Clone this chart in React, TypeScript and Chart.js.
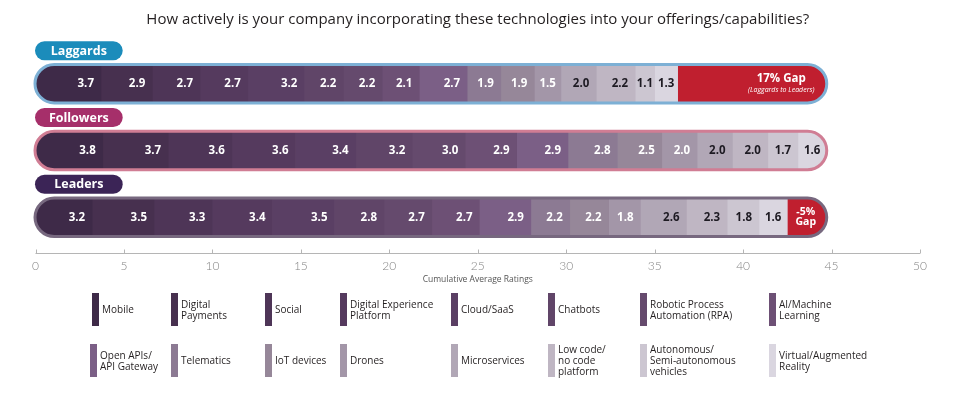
import { useEffect, useRef } from 'react';
import { Chart, registerables } from 'chart.js';
Chart.register(...registerables);

// ---------- data ----------
const chartTitle = 'How actively is your company incorporating these technologies into your offerings/capabilities?';
const groups = ['Laggards', 'Followers', 'Leaders'];
const technologies = [
  'Mobile', 'Digital\nPayments', 'Social', 'Digital Experience\nPlatform', 'Cloud/SaaS', 'Chatbots',
  'Robotic Process\nAutomation (RPA)', 'AI/Machine\nLearning', 'Open APIs/\nAPI Gateway', 'Telematics',
  'IoT devices', 'Drones', 'Microservices', 'Low code/\nno code\nplatform', 'Autonomous/\nSemi-autonomous\nvehicles',
  'Virtual/Augmented\nReality',
];
const laggards = [3.7, 2.9, 2.7, 2.7, 3.2, 2.2, 2.2, 2.1, 2.7, 1.9, 1.9, 1.5, 2.0, 2.2, 1.1, 1.3];
const followers = [3.8, 3.7, 3.6, 3.6, 3.4, 3.2, 3.0, 2.9, 2.9, 2.8, 2.5, 2.0, 2.0, 2.0, 1.7, 1.6];
const leaders = [3.2, 3.5, 3.3, 3.4, 3.5, 2.8, 2.7, 2.7, 2.9, 2.2, 2.2, 1.8, 2.6, 2.3, 1.8, 1.6];
const gaps = [8.4, 0, 2.2];
const gapLabels = [['17% Gap', '(Laggards to Leaders)'], [], ['-5%', 'Gap']];
const xTicks = [0, 5, 10, 15, 20, 25, 30, 35, 40, 45, 50];
const axisTitle = 'Cumulative Average Ratings';

// ---------- styles / layout ----------
const FONT = "'Open Sans', 'DejaVu Sans', sans-serif";
const segmentColors = [
  '#3e2a48', '#47304f', '#4e3557', '#553a5e', '#5a3f64', '#604568', '#654a6d', '#6d5075',
  '#7b5f86', '#8c7a93', '#968799', '#a396a8', '#b1a7b6', '#bfb6c3', '#ccc6d1', '#dad6e0',
];
const darkTextFrom = 12;
const groupColors = ['#1b8cbb', '#a62f6a', '#3b2456'];
const outlineColors = ['#7db0d5', '#d07d94', '#77687f'];
const gapColor = '#c01f2f';
const legendSwatchX = [[92, 171, 265, 340, 451, 548, 640, 769], [90, 171, 265, 340, 451, 548, 640, 769]];
const legendRowTop = [293, 344];

const rows = [laggards, followers, leaders];

function pathRound(ctx: CanvasRenderingContext2D, x: number, y: number, w: number, h: number, r: number) {
  ctx.moveTo(x + r, y);
  ctx.lineTo(x + w - r, y);
  ctx.arc(x + w - r, y + r, r, -Math.PI / 2, Math.PI / 2);
  ctx.lineTo(x + r, y + h);
  ctx.arc(x + r, y + r, r, Math.PI / 2, Math.PI * 1.5);
  ctx.closePath();
}

function rowGeom(chart: any, j: number) {
  const xs = chart.scales.x;
  const ys = chart.scales.y;
  const total = rows[j].reduce((a: number, b: number) => a + b, 0) + gaps[j];
  const cy = ys.getPixelForValue(j);
  const h = 38.5;
  const x0 = xs.getPixelForValue(0);
  const x1 = xs.getPixelForValue(total);
  return { x0, x1, cy, h, top: cy - h / 2 };
}

const barsPlugin = {
  id: 'roundedRows',
  beforeDatasetsDraw(chart: any) {
    const ctx = chart.ctx as CanvasRenderingContext2D;
    ctx.save();
    ctx.beginPath();
    groups.forEach((_, j) => {
      const g = rowGeom(chart, j);
      pathRound(ctx, g.x0, g.top, g.x1 - g.x0, g.h, g.h / 2);
    });
    ctx.clip();
  },
  afterDatasetsDraw(chart: any) {
    const ctx = chart.ctx as CanvasRenderingContext2D;
    ctx.restore();
    // value labels
    ctx.save();
    ctx.textBaseline = 'middle';
    ctx.textAlign = 'center';
    technologies.forEach((_, i) => {
      const meta = chart.getDatasetMeta(i);
      meta.data.forEach((el: any, j: number) => {
        const p = el.getProps(['x', 'base', 'y'], true);
        const v = rows[j][i];
        const txt = v.toFixed(1);
        ctx.font = `bold 11.5px ${FONT}`;
        const tw = ctx.measureText(txt).width;
        const start = Math.min(p.x, p.base);
        const end = Math.max(p.x, p.base);
        const cx = Math.max((start + end) / 2, end - 7 - tw / 2);
        ctx.fillStyle = i >= darkTextFrom ? '#1d1a22' : '#ffffff';
        ctx.fillText(txt, cx, p.y + 0.5);
      });
    });
    // gap labels
    const gi = technologies.length;
    const gmeta = chart.getDatasetMeta(gi);
    gmeta.data.forEach((el: any, j: number) => {
      const lines = gapLabels[j];
      if (!lines || !lines.length || !gaps[j]) return;
      const p = el.getProps(['x', 'base', 'y'], true);
      const start = Math.min(p.x, p.base);
      const end = Math.max(p.x, p.base);
      const cx = Math.max((start + end) / 2, end - 45);
      ctx.fillStyle = '#ffffff';
      if (j === 0) {
        ctx.font = `bold 11.5px ${FONT}`;
        ctx.fillText(lines[0], cx, p.y - 5);
        ctx.font = `italic 7px ${FONT}`;
        ctx.fillText(lines[1], cx, p.y + 6);
      } else {
        ctx.font = `bold 10.5px ${FONT}`;
        ctx.fillText(lines[0], cx - 1, p.y - 5.5);
        ctx.fillText(lines[1], cx - 1, p.y + 5);
      }
    });
    ctx.restore();
    // outlines + badges
    ctx.save();
    groups.forEach((name, j) => {
      const g = rowGeom(chart, j);
      ctx.beginPath();
      pathRound(ctx, g.x0 - 0.5, g.top, g.x1 - g.x0 + 1, g.h, g.h / 2);
      ctx.lineWidth = 3;
      ctx.strokeStyle = outlineColors[j];
      ctx.stroke();
      // badge
      const bx = 35, bw = 87.7, bh = 19;
      const by = g.cy - 33 - bh / 2;
      ctx.beginPath();
      pathRound(ctx, bx, by, bw, bh, bh / 2);
      ctx.fillStyle = groupColors[j];
      ctx.fill();
      ctx.fillStyle = '#ffffff';
      ctx.font = `bold 12.5px ${FONT}`;
      ctx.textAlign = 'center';
      ctx.textBaseline = 'middle';
      ctx.fillText(name, bx + bw / 2, by + bh / 2 + 0.5);
    });
    ctx.restore();
  },
  afterDraw(chart: any) {
    const ctx = chart.ctx as CanvasRenderingContext2D;
    const xs = chart.scales.x;
    const y = Math.round(chart.chartArea.bottom + 2.3) + 0.5;
    ctx.save();
    ctx.strokeStyle = '#b5b5b5';
    ctx.lineWidth = 1;
    ctx.beginPath();
    ctx.moveTo(xs.getPixelForValue(xTicks[0]), y);
    ctx.lineTo(xs.getPixelForValue(xTicks[xTicks.length - 1]), y);
    xTicks.forEach((t) => {
      const px = Math.round(xs.getPixelForValue(t)) + 0.5;
      ctx.moveTo(px, y);
      ctx.lineTo(px, y - 4);
    });
    ctx.stroke();
    ctx.restore();
  },
};

export default function App() {
  const ref = useRef<HTMLCanvasElement | null>(null);
  useEffect(() => {
    if (!ref.current) return;
    const datasets: any[] = technologies.map((t, i) => ({
      label: t.replace(/\n/g, ' '),
      data: rows.map((r) => r[i]),
      backgroundColor: segmentColors[i],
      borderWidth: 0,
      barThickness: 42,
    }));
    datasets.push({
      label: 'Gap',
      data: gaps,
      backgroundColor: gapColor,
      borderWidth: 0,
      barThickness: 42,
    });
    const chart = new Chart(ref.current, {
      type: 'bar',
      data: { labels: groups, datasets },
      plugins: [barsPlugin],
      options: {
        indexAxis: 'y',
        animation: false,
        responsive: false,
        maintainAspectRatio: false,
        layout: { padding: { left: 35.5, right: 40, top: 0, bottom: 113.9 } },
        plugins: {
          legend: { display: false },
          tooltip: { enabled: false },
          title: {
            display: true,
            text: chartTitle,
            color: '#231f20',
            font: { family: FONT, size: 15, weight: 'normal' },
            padding: { top: 11, bottom: 21.3 },
          },
        },
        scales: {
          x: {
            type: 'linear',
            stacked: true,
            min: 0,
            max: 50,
            afterBuildTicks: (s: any) => {
              s.ticks = xTicks.map((v) => ({ value: v }));
            },
            ticks: {
              padding: 8.1,
              color: '#858585',
              font: { family: "Lato, 'Open Sans', sans-serif", size: 12, weight: 300 },
              maxRotation: 0,
            },
            grid: { display: false, drawTicks: false },
            border: { display: false },
            title: {
              display: true,
              text: axisTitle,
              color: '#555555',
              font: { family: FONT, size: 8.5 },
              padding: { top: -6.4, bottom: 0 },
            },
          },
          y: { type: 'category', stacked: true, display: false },
        },
      } as any,
    });
    return () => chart.destroy();
  }, []);

  return (
    <div style={{ position: 'absolute', left: 0, top: 0, width: 960, height: 399, background: '#fff' }}>
      <canvas ref={ref} width={960} height={399} style={{ position: 'absolute', left: 0, top: 0, width: 960, height: 399 }} />
      {technologies.map((t, i) => {
        const r = Math.floor(i / 8);
        const c = i % 8;
        const x = legendSwatchX[r][c];
        const top = legendRowTop[r];
        return (
          <div key={i} style={{ position: 'absolute', left: x, top, height: 33, display: 'flex', alignItems: 'center' }}>
            <div style={{ width: 7, height: 33, background: segmentColors[i], flex: 'none' }} />
            <div style={{ marginLeft: 3, fontFamily: FONT, fontSize: 10, lineHeight: '11px', color: '#231f20', whiteSpace: 'pre-line' }}>{t}</div>
          </div>
        );
      })}
    </div>
  );
}
